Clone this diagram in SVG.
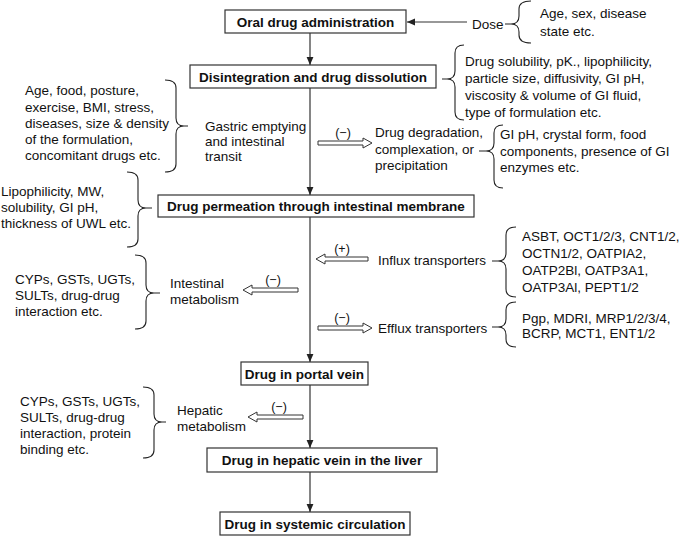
<svg xmlns="http://www.w3.org/2000/svg" width="685" height="536" viewBox="0 0 685 536">
<defs>
<style>
text{font-family:"Liberation Sans",Arial,Helvetica,sans-serif;fill:#111;font-size:13.5px}
.b{font-weight:bold;text-anchor:middle}
.s{font-size:12.5px;text-anchor:middle}
.box{fill:#fff;stroke:#333;stroke-width:1.2}
.ln{fill:none;stroke:#333;stroke-width:1.2}
.br{fill:none;stroke:#222;stroke-width:1.1}
.ha{fill:#fff;stroke:#333;stroke-width:1}
</style>
<marker id="ah" viewBox="0 0 8 8" refX="8" refY="4" markerWidth="8" markerHeight="8" markerUnits="userSpaceOnUse" orient="auto">
<path d="M0,0.6 L8,4 L0,7.4 z" fill="#222"/>
</marker>
</defs>
<rect width="685" height="536" fill="#fff"/>

<g id="connectors">
<line class="ln" x1="310" y1="33" x2="310" y2="65" marker-end="url(#ah)"/>
<line class="ln" x1="310" y1="88" x2="310" y2="195" marker-end="url(#ah)"/>
<line class="ln" x1="310" y1="217" x2="310" y2="362" marker-end="url(#ah)"/>
<line class="ln" x1="310" y1="385" x2="310" y2="448" marker-end="url(#ah)"/>
<line class="ln" x1="310" y1="472" x2="310" y2="512" marker-end="url(#ah)"/>
<line class="ln" x1="467" y1="22" x2="407" y2="22" marker-end="url(#ah)"/>
<!-- hollow arrows -->
<path class="ha" d="M318,141 H363 V138 L372,143 L363,148 V145 H318 Z"/>
<path class="ha" d="M368,257 H325 V254 L316,259 L325,264 V261 H368 Z"/>
<path class="ha" d="M298,288 H252 V285 L243,290 L252,295 V292 H298 Z"/>
<path class="ha" d="M318,326 H363 V323 L372,328 L363,333 V330 H318 Z"/>
<path class="ha" d="M303,415 H257 V412 L248,417 L257,422 V419 H303 Z"/>
<text class="s" x="343" y="137">(−)</text>
<text class="s" x="342" y="253">(+)</text>
<text class="s" x="273" y="284">(−)</text>
<text class="s" x="342" y="322">(−)</text>
<text class="s" x="279" y="411">(−)</text>
<!-- braces -->
<path class="br" d="M531,1 Q519,1 519,9 V16 Q519,24 511,24 H505 M511,24 Q519,24 519,32 V35 Q519,43 531,43"/>
<path class="br" d="M464,45 Q455,45 455,53 V71 Q455,79 447,79 H442 M447,79 Q455,79 455,87 V112 Q455,120 464,120"/>
<path class="br" d="M165,80 Q176,80 176,88 V118 Q176,126 184,126 H188 M184,126 Q176,126 176,134 V164 Q176,172 165,172"/>
<path class="br" d="M127,172 Q138,172 138,180 V200 Q138,208 146,208 H152 M146,208 Q138,208 138,216 V239 Q138,247 127,247"/>
<path class="br" d="M503,125 Q494,125 494,133 V143 Q494,151 486,151 H479 M486,151 Q494,151 494,159 V180 Q494,188 503,188"/>
<path class="br" d="M516,227 Q506,227 506,235 V253 Q506,261 498,261 H492 M498,261 Q506,261 506,269 V289 Q506,297 516,297"/>
<path class="br" d="M516,302 Q506,302 506,310 V319 Q506,327 498,327 H492 M498,327 Q506,327 506,335 V339 Q506,347 516,347"/>
<path class="br" d="M135,255 Q146,255 146,263 V285 Q146,293 154,293 H160 M154,293 Q146,293 146,301 V321 Q146,329 135,329"/>
<path class="br" d="M143,387 Q154,387 154,395 V414 Q154,422 162,422 H166 M162,422 Q154,422 154,430 V450 Q154,458 143,458"/>
</g>

<g id="n-oral"><rect class="box" x="225" y="10" width="181" height="23"/><text class="b" x="315.5" y="26.5">Oral drug administration</text></g>
<g id="n-dis"><rect class="box" x="190" y="65" width="246" height="23"/><text class="b" x="313" y="81.5">Disintegration and drug dissolution</text></g>
<g id="n-perm"><rect class="box" x="158" y="195" width="316" height="22"/><text class="b" x="316" y="211">Drug permeation through intestinal membrane</text></g>
<g id="n-portal"><rect class="box" x="241" y="362" width="127" height="23"/><text class="b" x="304.5" y="378.5">Drug in portal vein</text></g>
<g id="n-hepatic"><rect class="box" x="207" y="448" width="230" height="24"/><text class="b" x="322" y="465">Drug in hepatic vein in the liver</text></g>
<g id="n-systemic"><rect class="box" x="220" y="512" width="190" height="23"/><text class="b" x="315" y="528.5">Drug in systemic circulation</text></g>

<g id="n-dose"><text x="472" y="29">Dose</text></g>
<g id="n-dose-f"><text x="540" y="18">Age, sex, disease</text><text x="540" y="35.5">state etc.</text></g>
<g id="n-sol-f"><text x="465" y="66">Drug solubility, pK., lipophilicity,</text><text x="465" y="83">particle size, diffusivity, GI pH,</text><text x="465" y="100">viscosity &amp; volume of GI fluid,</text><text x="465" y="117">type of formulation etc.</text></g>
<g id="n-gastric-f"><text x="25" y="95">Age, food, posture,</text><text x="25" y="111.5">exercise, BMI, stress,</text><text x="25" y="128">diseases, size &amp; density</text><text x="25" y="144">of the formulation,</text><text x="25" y="160">concomitant drugs etc.</text></g>
<g id="n-gastric"><text x="205" y="131">Gastric emptying</text><text x="205" y="146">and intestinal</text><text x="205" y="161">transit</text></g>
<g id="n-degr"><text x="375" y="137">Drug degradation,</text><text x="375" y="153.5">complexation, or</text><text x="375" y="170">precipitation</text></g>
<g id="n-degr-f"><text x="500" y="139">GI pH, crystal form, food</text><text x="500" y="155.5">components, presence of GI</text><text x="500" y="172">enzymes etc.</text></g>
<g id="n-perm-f"><text x="1" y="196">Lipophilicity, MW,</text><text x="1" y="212">solubility, GI pH,</text><text x="1" y="228">thickness of UWL etc.</text></g>
<g id="n-influx"><text x="378" y="265">Influx transporters</text></g>
<g id="n-influx-f"><text x="522" y="241">ASBT, OCT1/2/3, CNT1/2,</text><text x="522" y="258">OCTN1/2, OATPIA2,</text><text x="522" y="275">OATP2Bl, OATP3A1,</text><text x="522" y="292">OATP3Al, PEPT1/2</text></g>
<g id="n-intmet"><text x="170" y="288">Intestinal</text><text x="170" y="304">metabolism</text></g>
<g id="n-intmet-f"><text x="15" y="284">CYPs, GSTs, UGTs,</text><text x="15" y="300">SULTs, drug-drug</text><text x="15" y="316">interaction etc.</text></g>
<g id="n-efflux"><text x="378" y="333">Efflux transporters</text></g>
<g id="n-efflux-f"><text x="522" y="323">Pgp, MDRI, MRP1/2/3/4,</text><text x="522" y="338">BCRP, MCT1, ENT1/2</text></g>
<g id="n-hepmet"><text x="177" y="415">Hepatic</text><text x="177" y="431">metabolism</text></g>
<g id="n-hepmet-f"><text x="20" y="406">CYPs, GSTs, UGTs,</text><text x="20" y="422">SULTs, drug-drug</text><text x="20" y="438">interaction, protein</text><text x="20" y="454">binding etc.</text></g>
</svg>
